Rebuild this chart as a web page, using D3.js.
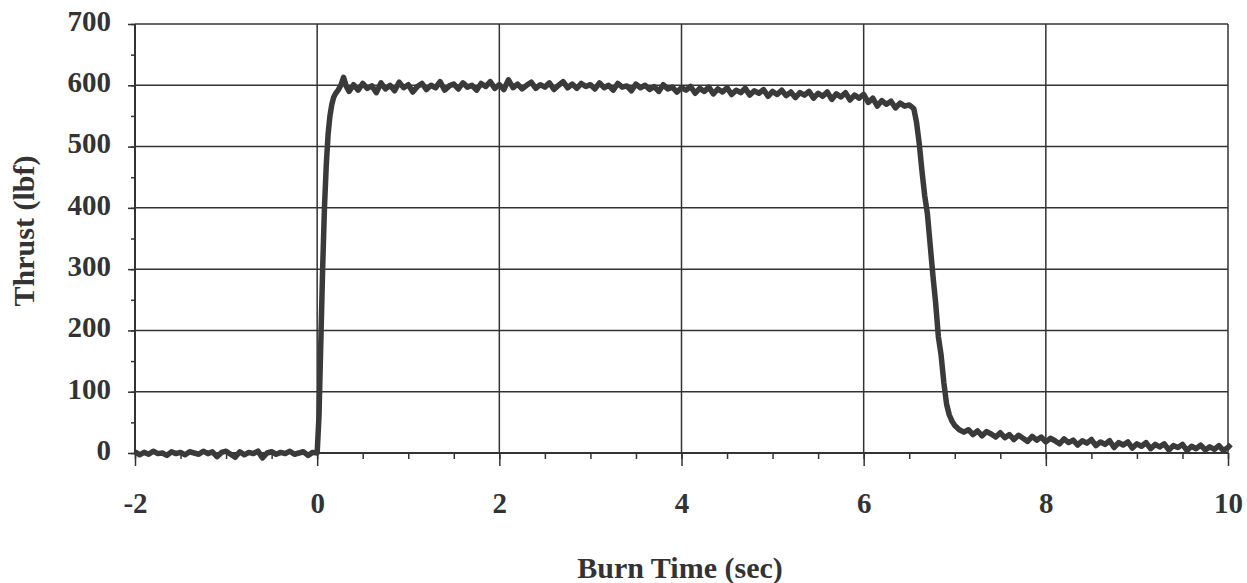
<!DOCTYPE html>
<html>
<head>
<meta charset="utf-8">
<script src="https://cdn.jsdelivr.net/npm/d3@7"></script>
<style>
  body { margin: 0; background: #fff; }
  text { font-family: "Liberation Serif", "Times New Roman", serif; font-weight: bold; fill: #333; }
</style>
</head>
<body>
<div id="chart"></div>
<script>
// thrust trace: [time (s), thrust (lbf)]
var preIgnition = [
  [-2.00, 2], [-1.95, -3], [-1.90, 1], [-1.85, -2], [-1.80, 3], [-1.75, -1], [-1.70, 0], [-1.65, -4],
  [-1.60, 2], [-1.55, -1], [-1.50, 1], [-1.45, -3], [-1.40, 2], [-1.35, 0], [-1.30, -2], [-1.25, 3],
  [-1.20, -1], [-1.15, 2], [-1.10, -6], [-1.05, 1], [-1.00, 3], [-0.95, -2], [-0.90, -7], [-0.85, 2],
  [-0.80, -3], [-0.75, 1], [-0.70, -1], [-0.65, 3], [-0.60, -8], [-0.55, 0], [-0.50, 2], [-0.45, -2],
  [-0.40, 1], [-0.35, -1], [-0.30, 3], [-0.25, -2], [-0.20, 0], [-0.15, 2], [-0.10, -4], [-0.05, 1],
  [0.00, 0]
];
var riseUp = [
  [0.02, 60], [0.04, 180], [0.06, 300], [0.08, 400], [0.10, 470], [0.12, 520], [0.14, 550],
  [0.16, 568], [0.18, 580], [0.20, 586], [0.23, 592], [0.26, 600], [0.29, 613], [0.32, 598]
];
var plateau = [
  [0.35, 590], [0.40, 601], [0.45, 592], [0.50, 603], [0.55, 595], [0.60, 599], [0.65, 588], [0.70, 604],
  [0.75, 594], [0.80, 600], [0.85, 591], [0.90, 605], [0.95, 596], [1.00, 601], [1.05, 589], [1.10, 598],
  [1.15, 603], [1.20, 593], [1.25, 600], [1.30, 596], [1.35, 606], [1.40, 592], [1.45, 599], [1.50, 602],
  [1.55, 594], [1.60, 604], [1.65, 597], [1.70, 600], [1.75, 592], [1.80, 603], [1.85, 598], [1.90, 606],
  [1.95, 595], [2.00, 601], [2.05, 593], [2.10, 609], [2.15, 596], [2.20, 602], [2.25, 594], [2.30, 600],
  [2.35, 605], [2.40, 595], [2.45, 601], [2.50, 597], [2.55, 604], [2.60, 593], [2.65, 600], [2.70, 606],
  [2.75, 596], [2.80, 602], [2.85, 595], [2.90, 603], [2.95, 598], [3.00, 601], [3.05, 594], [3.10, 604],
  [3.15, 596], [3.20, 600], [3.25, 592], [3.30, 603], [3.35, 597], [3.40, 599], [3.45, 591], [3.50, 602],
  [3.55, 596], [3.60, 600], [3.65, 593], [3.70, 598], [3.75, 590], [3.80, 601], [3.85, 594], [3.90, 597],
  [3.95, 589], [4.00, 596], [4.05, 592], [4.10, 598], [4.15, 587], [4.20, 595], [4.25, 590], [4.30, 597],
  [4.35, 586], [4.40, 594], [4.45, 589], [4.50, 596], [4.55, 585], [4.60, 592], [4.65, 588], [4.70, 595],
  [4.75, 584], [4.80, 591], [4.85, 587], [4.90, 593], [4.95, 582], [5.00, 590], [5.05, 585], [5.10, 592],
  [5.15, 583], [5.20, 589], [5.25, 580], [5.30, 588], [5.35, 584], [5.40, 590], [5.45, 579], [5.50, 587],
  [5.55, 582], [5.60, 589], [5.65, 577], [5.70, 586], [5.75, 581], [5.80, 588], [5.85, 576], [5.90, 584],
  [5.95, 579], [6.00, 585], [6.05, 572], [6.10, 579], [6.15, 566], [6.20, 575], [6.25, 569], [6.30, 574],
  [6.35, 563], [6.40, 571], [6.45, 566], [6.50, 568]
];
var tailOff = [
  [6.55, 562], [6.58, 540], [6.61, 505], [6.64, 460], [6.67, 420], [6.70, 390], [6.73, 340], [6.76, 290],
  [6.79, 245], [6.82, 190], [6.85, 160], [6.88, 115], [6.91, 80], [6.94, 62], [6.97, 52], [7.00, 45],
  [7.05, 38]
];
var afterBurn = [
  [7.10, 34], [7.15, 38], [7.20, 30], [7.25, 36], [7.30, 28], [7.35, 35], [7.40, 31], [7.45, 26],
  [7.50, 33], [7.55, 25], [7.60, 30], [7.65, 22], [7.70, 29], [7.75, 24], [7.80, 19], [7.85, 27],
  [7.90, 21], [7.95, 26], [8.00, 18], [8.05, 24], [8.10, 20], [8.15, 15], [8.20, 23], [8.25, 17],
  [8.30, 21], [8.35, 13], [8.40, 20], [8.45, 16], [8.50, 22], [8.55, 12], [8.60, 18], [8.65, 14],
  [8.70, 20], [8.75, 9], [8.80, 17], [8.85, 13], [8.90, 18], [8.95, 8], [9.00, 15], [9.05, 11],
  [9.10, 17], [9.15, 7], [9.20, 14], [9.25, 10], [9.30, 15], [9.35, 5], [9.40, 12], [9.45, 9],
  [9.50, 14], [9.55, 4], [9.60, 11], [9.65, 7], [9.70, 13], [9.75, 5], [9.80, 10], [9.85, 6],
  [9.90, 12], [9.95, 4], [10.00, 9], [10.03, 14]
];

var xTicks = [-2, 0, 2, 4, 6, 8, 10];
var yTicks = [0, 100, 200, 300, 400, 500, 600, 700];

var W = 1247, H = 583;
var plotLeft = 135, plotRight = 1228, plotTop = 24, plotBottom = 453;
var ink = "#333";

var svg = d3.select("#chart").append("svg")
    .attr("width", W)
    .attr("height", H);

var x = d3.scaleLinear().domain([-2, 10]).range([plotLeft, plotRight]);
var y = d3.scaleLinear().domain([0, 700]).range([plotBottom, plotTop]);

// gridlines
svg.append("g").selectAll("line").data(yTicks.slice(1))
  .enter().append("line")
    .attr("x1", plotLeft).attr("x2", plotRight)
    .attr("y1", function(d) { return y(d); })
    .attr("y2", function(d) { return y(d); })
    .attr("stroke", ink).attr("stroke-width", 1.5);
svg.append("g").selectAll("line").data(xTicks.slice(1))
  .enter().append("line")
    .attr("x1", function(d) { return x(d); })
    .attr("x2", function(d) { return x(d); })
    .attr("y1", plotTop).attr("y2", plotBottom)
    .attr("stroke", ink).attr("stroke-width", 1.5);

// minor ticks
var xMinor = d3.axisBottom(x).tickValues(d3.range(-2, 10.01, 0.5)).tickSize(6).tickFormat("");
var yMinor = d3.axisLeft(y).tickValues(d3.range(0, 701, 50)).tickSize(4).tickFormat("");

svg.append("g").attr("transform", "translate(0," + plotBottom + ")").call(xMinor)
  .call(function(g) { g.select(".domain").remove(); g.selectAll("line").attr("stroke", ink).attr("stroke-width", 1.5); });
svg.append("g").attr("transform", "translate(" + plotLeft + ",0)").call(yMinor)
  .call(function(g) { g.select(".domain").remove(); g.selectAll("line").attr("stroke", ink).attr("stroke-width", 1.5); });

// major axes
var xAxis = d3.axisBottom(x).tickValues(xTicks).tickSize(13).tickPadding(30)
    .tickFormat(function(d) { return d; });
var yAxis = d3.axisLeft(y).tickValues(yTicks).tickSize(7).tickPadding(17);

svg.append("g").attr("transform", "translate(0," + plotBottom + ")").call(xAxis)
  .call(function(g) {
    g.select(".domain").attr("stroke", ink).attr("stroke-width", 2).attr("d", "M" + plotLeft + ",0H" + plotRight);
    g.selectAll("line").attr("stroke", ink).attr("stroke-width", 1.5);
    g.selectAll("text").attr("font-size", 29).attr("font-family", null).attr("fill", null).attr("dy", "0.6em");
  });
svg.append("g").attr("transform", "translate(" + plotLeft + ",0)").call(yAxis)
  .call(function(g) {
    g.select(".domain").attr("stroke", ink).attr("stroke-width", 2).attr("d", "M0," + plotTop + "V" + plotBottom);
    g.selectAll("line").attr("stroke", ink).attr("stroke-width", 1.5);
    g.selectAll("text").attr("font-size", 29).attr("font-family", null).attr("fill", null).attr("dy", "0.22em");
  });

// thrust trace
var trace = preIgnition.concat(riseUp, plateau, tailOff, afterBurn);
var line = d3.line()
    .x(function(d) { return x(d[0]); })
    .y(function(d) { return y(d[1]); });

svg.append("path")
    .datum(trace)
    .attr("d", line)
    .attr("fill", "none")
    .attr("stroke", "#3a3a3a")
    .attr("stroke-width", 5.5)
    .attr("stroke-linejoin", "round");

// titles
svg.append("text")
    .attr("x", 680).attr("y", 578)
    .attr("text-anchor", "middle")
    .attr("font-size", 30)
    .text("Burn Time (sec)");

svg.append("text")
    .attr("transform", "translate(34,231) rotate(-90)")
    .attr("text-anchor", "middle")
    .attr("font-size", 30)
    .text("Thrust (lbf)");
</script>
</body>
</html>
